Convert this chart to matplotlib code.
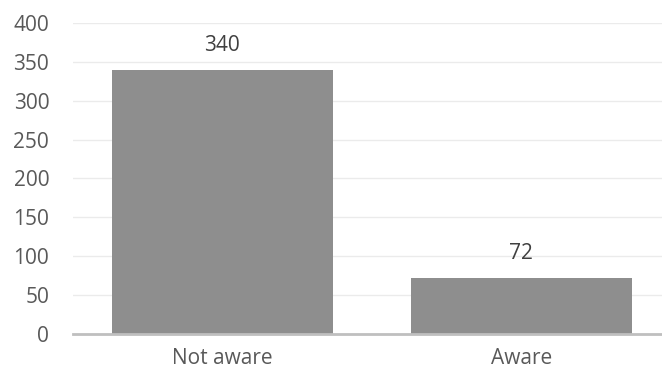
import matplotlib.pyplot as plt

# data
categories = ['Not aware', 'Aware']
counts = [340, 72]
y_ticks = [0, 50, 100, 150, 200, 250, 300, 350, 400]

text_color = '#595959'
plt.rcParams['font.family'] = ['Open Sans', 'DejaVu Sans']

fig = plt.figure(figsize=(6.62, 3.74), dpi=100)
ax = fig.add_axes([0.110, 0.107, 0.890, 0.8315])

x = range(len(categories))
bars = ax.bar(x, counts, width=0.74, color='#8E8E8E', zorder=2)

# value labels above bars
for rect, val in zip(bars, counts):
    ax.annotate(str(val), (rect.get_x() + rect.get_width() / 2, rect.get_height()),
                xytext=(0, 10), textcoords='offset points',
                ha='center', va='bottom', fontsize=15, color='#404040')

ax.set_xlim(-0.5, 1.47)
ax.set_ylim(0, 400)
ax.set_yticks(y_ticks)
ax.set_xticks(list(x))
ax.set_xticklabels(categories)

ax.grid(axis='y', color='#EBEBEB', linewidth=1.0, zorder=0)
ax.set_axisbelow(True)

for side in ['top', 'right', 'left']:
    ax.spines[side].set_visible(False)
ax.spines['bottom'].set_color('#BFBFBF')
ax.spines['bottom'].set_linewidth(2)

ax.tick_params(axis='y', length=0, pad=17, labelsize=15, labelcolor=text_color)
ax.tick_params(axis='x', length=0, pad=10, labelsize=15, labelcolor=text_color)

fig.savefig('out.png', dpi=100)
